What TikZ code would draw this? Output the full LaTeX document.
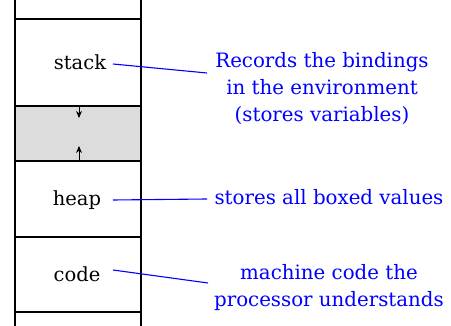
\documentclass[tikz,border=0pt]{standalone}
\usepackage{fontspec}
\setmainfont{DejaVu Serif}
\usetikzlibrary{arrows.meta}
\begin{document}
\begin{tikzpicture}[x=1pt,y=-1pt,
  seg/.style={line width=1.2pt},
  lbl/.style={font=\fontsize{19.5}{22}\selectfont, inner sep=0pt},
  note/.style={font=\fontsize{19.8}{27}\selectfont, text=blue, align=center, inner sep=0pt},
  conn/.style={blue, line width=1.1pt},
  growarrow/.style={-{Stealth[length=7pt,width=6pt]}, line width=0.9pt}]
\useasboundingbox (0,0) rectangle (451,326);
\fill[fill={rgb,255:red,220;green,220;blue,220}] (15,106) rectangle (141,161);
\draw[seg] (15,0) -- (15,326);
\draw[seg] (141,0) -- (141,326);
\foreach \yy in {19,106,161,237,312} \draw[seg] (15,\yy) -- (141,\yy);
\coordinate (gt) at (79,106);
\coordinate (gtb) at (79,118);
\coordinate (gb) at (79,161);
\coordinate (gbt) at (79,146);
\draw[growarrow] (gt) -- (gtb);
\draw[growarrow] (gb) -- (gbt);
\node[lbl] (stack) at (80,62) {stack};
\node[lbl] (heap) at (77,200) {heap};
\node[lbl] (code) at (77,274) {code};
\node[note] (n1) at (322,89) {Records the bindings\\in the environment\\(stores variables)};
\node[note] (n2) at (329,197) {stores all boxed values};
\node[note] (n3) at (329,288) {machine code the\\processor understands};
\coordinate (s1) at (113,64);
\coordinate (e1) at (207,73);
\coordinate (s2) at (113,200);
\coordinate (e2) at (207,199);
\coordinate (s3) at (113,270);
\coordinate (e3) at (208,283);
\draw[conn] (s1) -- (e1);
\draw[conn] (s2) -- (e2);
\draw[conn] (s3) -- (e3);
\end{tikzpicture}
\end{document}
